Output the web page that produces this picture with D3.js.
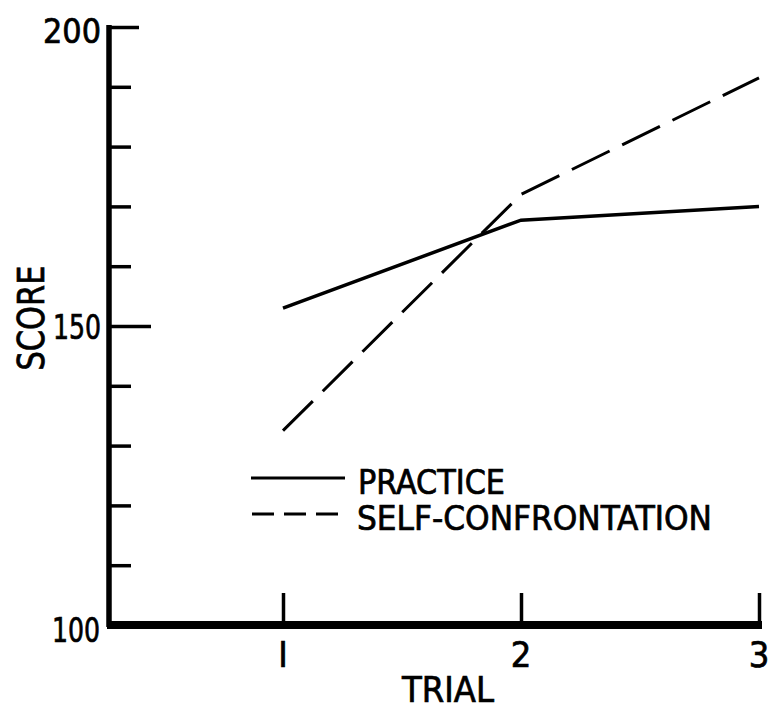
<!DOCTYPE html>
<html><head><meta charset="utf-8">
<script src="https://cdn.jsdelivr.net/npm/d3@7"></script>
<style>body{margin:0;background:#fff}svg{display:block}text{font-family:"Liberation Sans Narrow","DejaVu Sans Condensed",sans-serif;fill:#000;stroke:#000;stroke-width:0.7px}</style>
</head><body>
<script>
const trials = [1, 2, 3];
const practice = [153, 167.7, 170];
const selfConfrontation = [132.5, 172, 191.5];
const yTicks = [100, 110, 120, 130, 140, 150, 160, 170, 180, 190, 200];
const yLabels = [100, 150, 200];
const seriesNames = ["PRACTICE", "SELF-CONFRONTATION"];

const W = 773, H = 709;
const svg = d3.select("body").append("svg").attr("width", W).attr("height", H);
const x = d3.scaleLinear().domain([1, 3]).range([283, 759]);
const y = d3.scaleLinear().domain([100, 200]).range([625, 27]);
const x0 = 109;

// y axis
const yAxis = d3.axisRight(y).tickValues(yTicks).tickFormat("").tickSizeOuter(0)
  .tickSize(22);
const gy = svg.append("g").attr("transform", `translate(${x0},0)`).call(yAxis);
gy.select(".domain").remove();
gy.selectAll(".tick line").attr("stroke", "#000").attr("stroke-width", 3.5)
  .attr("x2", d => d === 200 ? 30 : d === 150 ? 42 : 22);
svg.append("line").attr("x1", x0).attr("x2", x0).attr("y1", y(200) - 2).attr("y2", y(100) + 2)
  .attr("stroke", "#000").attr("stroke-width", 5.5);
yLabels.forEach(v => {
  svg.append("text").attr("x", v === 100 ? 100 : 101).attr("y", y(v) + (v === 100 ? 17 : v === 200 ? 16 : 13))
    .attr("text-anchor", "end").attr("font-size", 34)
    .attr("textLength", v === 200 ? 58 : 48).attr("lengthAdjust", "spacingAndGlyphs").text(v);
});
svg.append("text").attr("transform", `translate(44,318) rotate(-90)`).attr("text-anchor", "middle")
  .attr("font-size", 38).attr("textLength", 105).attr("lengthAdjust", "spacingAndGlyphs").text("SCORE");

// x axis
const xAxis = d3.axisTop(x).tickValues(trials).tickFormat("").tickSize(32).tickSizeOuter(0);
const gx = svg.append("g").attr("transform", `translate(0,${y(100)})`).call(xAxis);
gx.select(".domain").remove();
gx.selectAll(".tick line").attr("stroke", "#000").attr("stroke-width", 3.5);
svg.append("line").attr("x1", x0 - 2).attr("x2", x(3) + 3).attr("y1", y(100)).attr("y2", y(100))
  .attr("stroke", "#000").attr("stroke-width", 8);
trials.forEach(t => {
  svg.append("text").attr("x", x(t)).attr("y", 667).attr("text-anchor", "middle")
    .attr("font-size", 36).text(t === 1 ? "I" : t);
});
svg.append("text").attr("x", 448).attr("y", 702).attr("text-anchor", "middle")
  .attr("font-size", 36).attr("textLength", 92).attr("lengthAdjust", "spacingAndGlyphs").text("TRIAL");

// lines
const line = d3.line().x((d, i) => x(trials[i])).y(d => y(d));
svg.append("path").datum(practice).attr("d", line).attr("fill", "none")
  .attr("stroke", "#000").attr("stroke-width", 3.5);
svg.append("path").datum(selfConfrontation).attr("d", line).attr("fill", "none")
  .attr("stroke", "#000").attr("stroke-width", 3).attr("stroke-dasharray", "42,14");

// legend
const leg = svg.append("g");
leg.append("line").attr("x1", 251).attr("x2", 345).attr("y1", 478).attr("y2", 478)
  .attr("stroke", "#000").attr("stroke-width", 3);
leg.append("line").attr("x1", 252).attr("x2", 340).attr("y1", 514).attr("y2", 514)
  .attr("stroke", "#000").attr("stroke-width", 3).attr("stroke-dasharray", "22,10");
leg.append("text").attr("x", 358).attr("y", 494).attr("font-size", 33)
  .attr("textLength", 147).attr("lengthAdjust", "spacingAndGlyphs").text(seriesNames[0]);
leg.append("text").attr("x", 357).attr("y", 530).attr("font-size", 33)
  .attr("textLength", 355).attr("lengthAdjust", "spacingAndGlyphs").text(seriesNames[1]);
</script>
</body></html>
